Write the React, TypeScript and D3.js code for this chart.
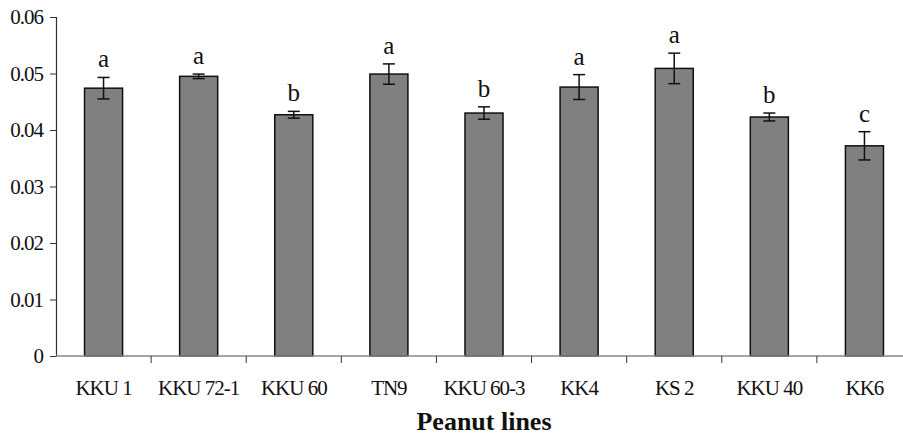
import { useEffect, useRef } from 'react';
import * as d3 from 'd3';

const lines = ['KKU 1', 'KKU 72-1', 'KKU 60', 'TN9', 'KKU 60-3', 'KK4', 'KS 2', 'KKU 40', 'KK6'];
const means = [0.0474, 0.0495, 0.0427, 0.0499, 0.0430, 0.0476, 0.0509, 0.0423, 0.0372];
const errors = [0.0019, 0.0004, 0.0006, 0.0018, 0.0011, 0.0022, 0.0027, 0.0007, 0.0025];
const groups = ['a', 'a', 'b', 'a', 'b', 'a', 'a', 'b', 'c'];
const yTicks = [0, 0.01, 0.02, 0.03, 0.04, 0.05, 0.06];

const W = 903;
const H = 436;
const font = "'Liberation Serif', 'Times New Roman', Times, serif";

export default function App() {
  const svgRef = useRef<SVGSVGElement>(null);

  useEffect(() => {
    const svg = d3.select(svgRef.current);
    svg.selectAll('*').remove();

    const x = d3.scaleBand().domain(lines).range([56, 912]).paddingInner(0.6).paddingOuter(0.3);
    const y = d3.scaleLinear().domain([0, 0.06]).range([356, 17]);
    const cx = (d: string) => x(d)! + x.bandwidth() / 2;

    // bars
    svg
      .selectAll('.bar')
      .data(lines)
      .join('rect')
      .attr('class', 'bar')
      .attr('x', (d) => x(d)!)
      .attr('y', (d, i) => y(means[i]))
      .attr('width', x.bandwidth())
      .attr('height', (d, i) => y(0) - y(means[i]))
      .attr('fill', '#808080')
      .attr('stroke', '#111')
      .attr('stroke-width', 1.5);

    // error bars
    const eb = svg.selectAll('.err').data(lines).join('g').attr('class', 'err')
      .attr('stroke', '#111').attr('stroke-width', 1.5);
    eb.append('line')
      .attr('x1', cx).attr('x2', cx)
      .attr('y1', (d, i) => y(means[i] + errors[i]))
      .attr('y2', (d, i) => y(means[i] - errors[i]));
    eb.append('line')
      .attr('x1', (d) => cx(d) - 6).attr('x2', (d) => cx(d) + 6)
      .attr('y1', (d, i) => y(means[i] + errors[i]))
      .attr('y2', (d, i) => y(means[i] + errors[i]));
    eb.append('line')
      .attr('x1', (d) => cx(d) - 6).attr('x2', (d) => cx(d) + 6)
      .attr('y1', (d, i) => y(means[i] - errors[i]))
      .attr('y2', (d, i) => y(means[i] - errors[i]));

    // group letters
    svg.selectAll('.grp').data(lines).join('text')
      .attr('class', 'grp')
      .attr('x', cx)
      .attr('y', (d, i) => y(means[i] + errors[i]) - 10)
      .attr('text-anchor', 'middle')
      .style('font-family', font)
      .style('font-size', '25px')
      .attr('fill', '#111')
      .text((d, i) => groups[i]);

    // y axis
    const yAxis = svg.append('g').attr('transform', 'translate(56,0)')
      .call(d3.axisLeft(y).tickValues(yTicks).tickSize(6).tickPadding(7)
        .tickFormat((v) => (v === 0 ? '0' : d3.format('.2f')(v as number))));
    yAxis.select('.domain').attr('stroke', '#333').attr('stroke-width', 1.2);
    yAxis.selectAll('.tick line').attr('stroke', '#333');
    yAxis.selectAll('.tick text')
      .style('font-family', font)
      .style('font-size', '21px')
      .style('letter-spacing', '-1px')
      .attr('fill', '#111');

    // x axis
    const xAxis = svg.append('g').attr('transform', 'translate(0,356)');
    xAxis.append('line').attr('x1', 56).attr('x2', 912).attr('stroke', '#888').attr('stroke-width', 1.5);
    xAxis.selectAll('.xt').data(lines.slice(1)).join('line')
      .attr('class', 'xt')
      .attr('x1', (d) => x(d)! - x.step() * 0.3)
      .attr('x2', (d) => x(d)! - x.step() * 0.3)
      .attr('y1', 0).attr('y2', 7)
      .attr('stroke', '#333');
    xAxis.selectAll('.xl').data(lines).join('text')
      .attr('class', 'xl')
      .attr('x', cx)
      .attr('y', 39)
      .attr('text-anchor', 'middle')
      .style('font-family', font)
      .style('font-size', '21px')
      .style('letter-spacing', '-1px')
      .attr('fill', '#111')
      .text((d) => d);

    svg.append('text')
      .attr('x', 484)
      .attr('y', 430)
      .attr('text-anchor', 'middle')
      .style('font-family', font)
      .style('font-size', '26px')
      .style('font-weight', 'bold')
      .attr('fill', '#111')
      .text('Peanut lines');
  }, []);

  return (
    <svg ref={svgRef} width={W} height={H} style={{ position: 'absolute', left: 0, top: 0, background: '#fff' }} />
  );
}
